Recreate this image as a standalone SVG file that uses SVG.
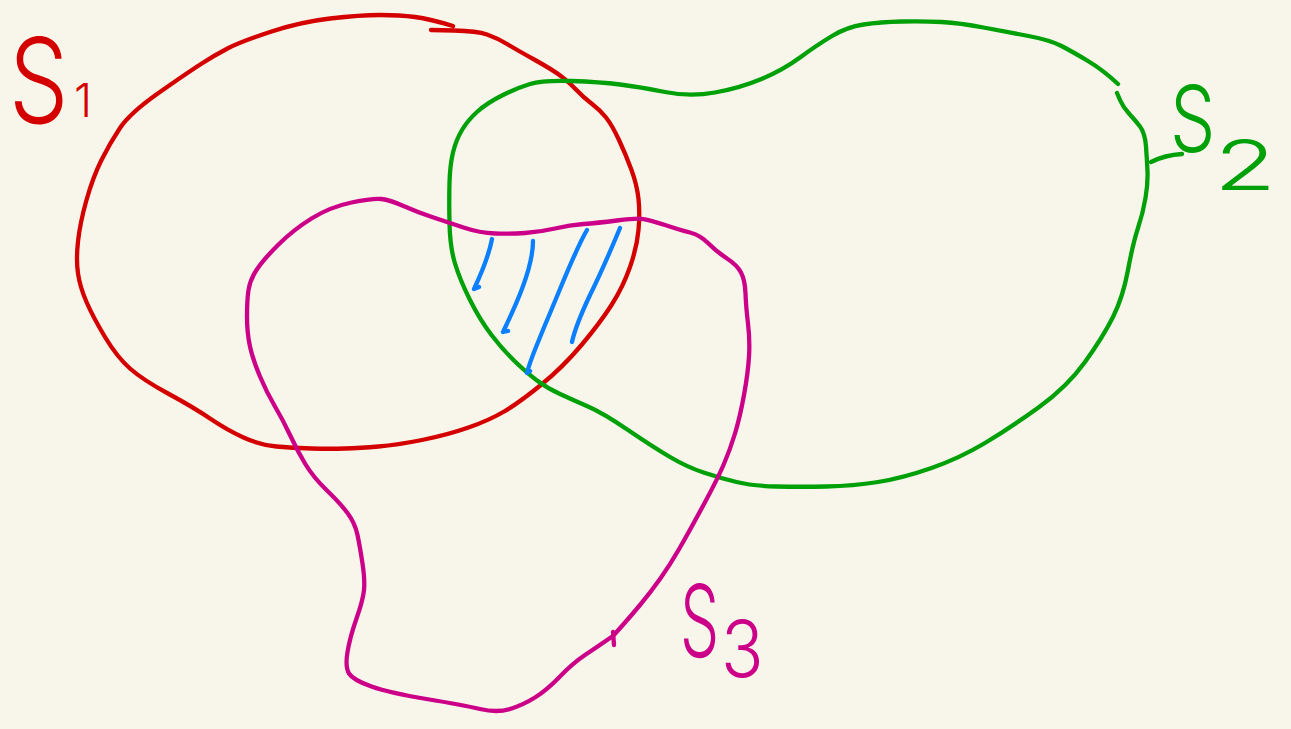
<svg xmlns="http://www.w3.org/2000/svg" width="1291" height="729" viewBox="0 0 1291 729">
<style>
.stroke{fill:none;stroke-width:4.3;stroke-linecap:round;stroke-linejoin:round}
.red{stroke:#d40000}.green{stroke:#00a008}.mag{stroke:#cc0088}.blue{stroke:#0a7fff}
.lbl{font-family:Inter,"Noto Sans","Liberation Sans",sans-serif;font-weight:300}
.lr{fill:#d40000}.lg{fill:#00a008}.lm{fill:#cc0088}
</style>
<rect width="1291" height="729" fill="#f8f6ea"/>
<g id="S1">
<path class="stroke red" d="M453,26 Q430,19 415,17 Q400,15 380,15 Q360,15 330,18.5 Q300,22 270,32 Q240,42 227.5,48.5 Q215,55 201,64 Q187,73 158.5,93 Q130,113 120,128 Q110,143 101.5,160 Q93,177 86.5,200 Q80,223 78,241.5 Q76,260 78,273.5 Q80,287 86.5,302 Q93,317 105,337 Q117,357 130,368.5 Q143,380 168,393.5 Q193,407 210,418.5 Q227,430 243.5,437.5 Q260,445 276.5,446.5 Q293,448 311.5,448.5 Q330,449 345,448.5 Q360,448 378.5,446.5 Q397,445 422,440 Q447,435 468.5,427.5 Q490,420 505,411 Q520,402 541.5,384.5 Q563,367 581.5,345 Q600,323 611.5,305 Q623,287 630,267 Q637,247 638.5,230 Q640,213 638.5,199 Q637,185 631.5,170 Q626,155 619,140 Q612,125 606,117.5 Q600,110 591.5,103.5 Q583,97 576.5,90 Q570,83 561.5,76.5 Q553,70 535,60 Q517,50 507,44 Q497,38 487,34.5 Q477,31 454,30.5 L431,30"/>
<text class="lbl lr" transform="translate(9,123) scale(0.84,1.05)" font-size="112">S</text>
<text class="lbl lr" x="74" y="117" font-size="46">1</text>
</g>
<g id="S2">
<path class="stroke green" d="M1118,84 Q1103,70 1088,61 Q1073,52 1061.5,46 Q1050,40 1028.5,36 Q1007,32 983.5,27.5 Q960,23 941.5,22 Q923,21 901.5,21.5 Q880,22 863.5,24.5 Q847,27 832,36 Q817,45 800,57.5 Q783,70 761.5,79 Q740,88 715,92.5 Q690,97 665,92 Q640,87 620,84.5 Q600,82 571.5,81 Q543,80 530,84 Q517,88 502,95.5 Q487,103 477.5,111.5 Q468,120 462,130 Q456,140 453,152.5 Q450,165 449.5,182.5 Q449,200 449.5,223.5 Q450,247 455,263.5 Q460,280 470,300 Q480,320 491.5,335 Q503,350 515,361.5 Q527,373 537,380.5 Q547,388 560,394 Q573,400 588,406.5 Q603,413 628,430 Q653,447 670,457 Q687,467 703.5,472.5 Q720,478 736.5,482 Q753,486 776.5,486.5 Q800,487 826.5,486.5 Q853,486 878,482 Q903,478 931.5,468 Q960,458 985,443 Q1010,428 1038.5,407.5 Q1067,387 1085,362 Q1103,337 1113,317 Q1123,297 1128,270 Q1133,243 1138,228 Q1143,213 1145.5,198 Q1148,183 1147.5,171.5 Q1147,160 1146,146.5 Q1145,133 1140,126.5 Q1135,120 1129,113.5 Q1123,107 1120,100 L1117,93"/>
<path class="stroke green" d="M1151,162 Q1165,155 1182,154"/>
<text class="lbl lg" transform="translate(1170,152) scale(0.78,1)" font-size="92">S</text>
<text class="lbl lg" transform="translate(1214,190) scale(1.45,1)" font-size="70">2</text>
</g>
<g id="S3">
<path class="stroke mag" d="M613,636 Q597,647 585,655 Q573,663 560,676.5 Q547,690 535,697.5 Q523,705 510,709 Q497,713 480,709 Q463,705 426.5,699 Q390,693 371.5,686.5 Q353,680 349,673.5 Q345,667 347.5,652 Q350,637 356.5,618.5 Q363,600 364,590 Q365,580 362.5,563.5 Q360,547 357.5,535 Q355,523 347.5,513 Q340,503 326.5,490 Q313,477 305,463.5 Q297,450 290,435 Q283,420 275,406.5 Q267,393 260,376.5 Q253,360 250,346.5 Q247,333 247,316.5 Q247,300 248.5,290 Q250,280 256.5,270 Q263,260 278,245 Q293,230 311.5,218.5 Q330,207 351.5,202.5 Q373,198 381.5,199 Q390,200 403.5,206 Q417,212 432,217 Q447,222 463.5,227.5 Q480,233 495,233.5 Q510,234 525,233 Q540,232 555,228.5 Q570,225 583.5,224 Q597,223 617,220.5 Q637,218 643.5,219 Q650,220 665,225 Q680,230 690,232.5 Q700,235 708.5,243.5 Q717,252 727,258.5 Q737,265 741,272.5 Q745,280 745.5,293.5 Q746,307 748,323.5 Q750,340 749,356.5 Q748,373 744,395 Q740,417 735,433.5 Q730,450 723.5,465 Q717,480 703.5,505 Q690,530 680,547.5 Q670,565 660,579 Q650,593 640,605 Q630,617 621.5,626.5 L613,636"/>
<path class="stroke mag" d="M613,632 L614,645"/>
<text class="lbl lm" transform="translate(680,657) scale(0.62,1)" font-size="100">S</text>
<text class="lbl lm" transform="translate(721,677) scale(0.9,1)" font-size="78">3</text>
</g>
<g id="hatch">
<path class="stroke blue" d="M492,239 C489,255 482,272 474,289 L479,287"/>
<path class="stroke blue" d="M533,241 C533,268 516,305 503,332 L508,331"/>
<path class="stroke blue" d="M587,230 C575,250 560,290 545,325 C537,345 530,360 527,373 L530,371"/>
<path class="stroke blue" d="M620,228 C610,252 600,275 590,295 C582,312 575,328 572,342"/>
</g>
</svg>
